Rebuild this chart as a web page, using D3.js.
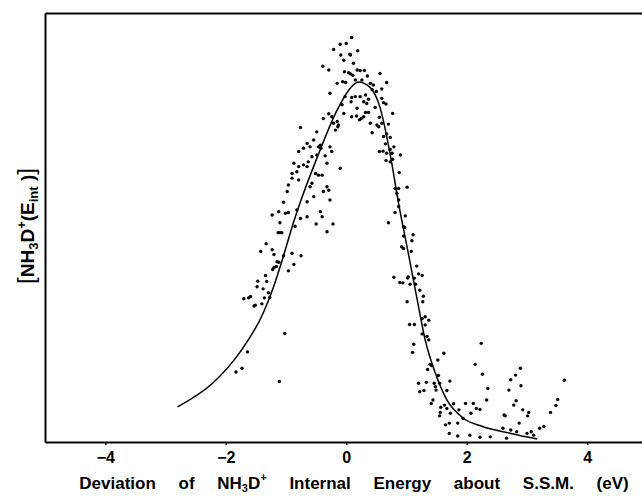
<!DOCTYPE html>
<html><head><meta charset="utf-8">
<script src="https://cdn.jsdelivr.net/npm/d3@7"></script>
<style>body{margin:0;background:#fff}svg{display:block}</style>
</head><body>
<svg id="c" width="642" height="496"></svg>
<script>
// x: deviation of internal energy (eV); y: relative population (arbitrary units, 0-100)
const xTicks = [-4, -2, 0, 2, 4];
const xDomain = [-5, 5];
const yDomain = [0, 100];

// fitted curve
const curveX = [-2.80, -2.21, -1.76, -1.38, -1.21, -1.05, -0.88, -0.76, -0.48, -0.15, 0.07, 0.20, 0.40, 0.56, 0.73, 0.87, 1.03, 1.18, 1.31, 1.48, 1.67, 1.94, 2.26, 2.73, 3.17];
const curveY = [8.2, 13.8, 21.0, 30.0, 36.0, 43.0, 51.0, 56.0, 66.4, 77.4, 82.5, 83.9, 82.6, 78.0, 67.0, 55.5, 44.0, 33.0, 23.8, 16.0, 9.8, 5.6, 3.6, 2.0, 0.7];

// scattered data points
const pointX = [
-0.10,0.00,-0.21,-0.09,0.06,-0.04,-0.39,-0.29,-0.03,0.04,-0.06,-0.01,-0.15,-0.27,-0.02,-0.07,-0.04,-0.24,-0.15,-0.21,-0.14,-0.38,-0.29,-0.76,-0.49,-0.18,-0.13,-0.54,-0.65,-0.60,-0.71,-0.79,-0.46,-0.43,-0.42,-0.27,-0.24,-0.49,-0.35,-0.32,-0.10,-0.57,-0.63,-0.71,-0.79,-0.87,-0.82,-0.90,-0.90,-0.65,-0.51,-0.46,-0.57,-0.60,-0.40,-0.32,-0.96,-0.79,-0.98,-0.38,-0.29,-0.27,-0.54,-0.65,-1.04,-1.12,-1.23,-1.01,-0.96,-0.82,-0.65,-0.76,-0.43,-0.40,
0.09,0.19,0.07,0.12,0.18,0.23,0.30,0.07,0.11,0.35,0.56,0.67,0.26,0.15,0.40,0.45,0.43,0.50,0.59,0.09,0.15,0.23,0.32,0.37,0.08,0.29,0.34,0.59,0.62,0.66,0.18,0.32,0.37,0.09,0.17,0.22,0.25,0.29,0.48,0.55,0.77,0.40,0.51,0.54,0.59,0.70,0.43,0.62,0.67,0.73,0.65,0.79,0.73,0.55,0.61,0.67,0.76,0.90,0.66,0.73,0.77,0.88,0.81,0.87,1.01,0.84,0.87,0.87,0.81,0.98,
-0.50,-0.32,-0.22,-0.85,-1.10,-1.13,-1.10,-1.07,-1.33,-1.42,-1.23,-1.20,-1.15,-1.12,-1.04,-0.90,-0.75,-0.87,-0.96,-1.22,-1.20,-1.16,-1.34,-1.47,-1.32,-1.48,-1.38,-1.29,-1.27,-1.36,-1.70,-1.62,-1.59,-1.51,-1.53,-1.40,-1.02,-1.64,-1.73,-1.83,-1.11,
0.70,0.95,0.97,1.11,1.09,0.95,0.92,0.95,1.08,1.17,1.20,1.26,1.13,1.03,1.02,0.79,0.89,0.94,1.06,1.15,1.22,1.28,1.27,1.01,1.31,1.37,1.26,1.31,1.05,1.13,1.26,1.34,1.37,1.12,1.10,1.62,1.52,1.39,1.42,1.35,1.53,1.72,1.20,1.33,1.46,1.48,1.55,1.22,1.29,1.49,1.67,1.44,1.41,1.57,1.63,1.78,1.67,1.56,1.55,1.73,1.87,1.94,1.98,2.07,2.11,2.16,2.22,2.24,2.14,2.26,2.35,2.33,2.62,2.64,2.73,2.70,2.81,2.89,2.90,2.82,2.78,2.93,3.01,3.03,3.39,3.48,3.51,3.62,
1.65,1.71,1.85,2.87,3.21,3.28,1.71,1.85,2.05,2.22,2.39,2.66,2.83,3.00,2.60,2.73,3.07,3.11
];
const pointY = [
92.7,92.9,91.5,90.2,90.4,89.0,87.6,86.7,86.3,86.1,84.0,83.8,83.6,81.3,80.5,78.6,76.6,75.8,74.7,74.3,73.5,75.4,76.5,73.3,72.3,72.7,73.9,70.4,69.6,68.8,68.5,67.7,68.8,69.2,68.5,68.8,67.7,66.9,66.7,65.0,63.8,66.5,65.3,64.6,64.2,65.0,63.0,62.6,61.5,64.2,62.6,62.2,60.3,59.5,62.2,59.5,59.9,61.1,58.4,58.4,58.7,56.4,57.2,56.0,55.9,53.7,52.9,53.3,53.5,54.1,52.5,52.1,53.7,52.5,
94.3,91.2,90.2,88.3,86.7,86.6,86.6,85.8,85.5,85.3,85.9,83.8,84.4,84.4,83.6,83.2,82.1,81.7,82.3,80.3,80.5,80.5,80.9,79.9,79.3,79.3,78.9,80.1,79.1,78.8,77.8,76.8,76.8,75.8,76.0,75.1,75.4,75.8,78.0,75.7,76.6,74.3,73.9,73.5,74.3,74.1,72.1,71.2,71.8,71.0,69.5,68.8,68.2,67.7,67.8,67.3,67.3,66.9,65.6,65.3,65.9,62.8,59.1,59.1,59.4,58.0,56.4,54.9,53.5,52.7,
50.8,49.0,50.8,50.3,51.1,48.8,48.8,48.8,46.2,44.4,44.8,43.7,42.0,41.9,43.4,44.0,43.4,41.4,39.9,40.2,40.7,40.9,38.8,37.5,37.4,36.2,35.7,34.8,33.7,33.6,33.4,33.6,33.9,31.9,31.7,32.2,25.3,21.0,17.2,16.3,14.1,
51.1,50.2,50.0,48.3,46.9,48.0,45.5,45.1,44.4,41.0,39.2,38.8,38.2,38.5,38.2,38.4,37.2,37.1,36.8,36.8,35.4,34.0,32.7,32.7,29.2,28.4,28.8,27.3,27.4,27.4,25.2,24.6,23.8,22.8,20.9,20.7,19.1,18.1,17.8,16.9,15.5,14.2,13.7,13.9,13.7,12.9,13.7,11.7,12.0,12.1,12.0,9.8,9.0,8.1,8.6,8.9,7.8,6.9,6.1,6.7,7.5,5.5,9.0,6.7,9.0,7.8,7.6,23.0,18.1,15.8,12.5,9.8,6.3,6.1,14.5,12.1,15.6,17.2,13.1,9.6,8.6,7.5,6.1,6.9,6.9,8.5,9.9,14.4,
4.0,4.4,4.4,4.4,3.2,3.6,2.0,1.4,1.6,1.1,1.2,0.9,2.4,2.0,3.2,2.8,2.4,1.6
];

const svg = d3.select('#c');
const mLeft = 45, mRight = 647.5, mTop = 13, mBottom = 442;
const x = d3.scaleLinear().domain(xDomain).range([mLeft, mRight]);
const y = d3.scaleLinear().domain(yDomain).range([mBottom, mTop]);
const font = '"Liberation Sans", Arial, Helvetica, sans-serif';

// frame
const xAxis = svg.append('g').attr('transform', `translate(0,${mBottom})`)
  .call(d3.axisBottom(x).tickValues(xTicks).tickSize(3).tickSizeOuter(0).tickPadding(7));
xAxis.select('.domain').attr('stroke', '#000').attr('stroke-width', 2);
xAxis.selectAll('.tick line').attr('stroke', '#000').attr('stroke-width', 1.5);
xAxis.selectAll('.tick text').attr('font-family', font).attr('font-size', 16).attr('font-weight', 'bold').attr('fill', '#000');

const topAxis = svg.append('g').attr('transform', `translate(0,${mTop})`)
  .call(d3.axisTop(x).tickValues([]).tickSizeOuter(0));
topAxis.select('.domain').attr('stroke', '#000').attr('stroke-width', 2);

const yAxis = svg.append('g').attr('transform', `translate(${mLeft},0)`)
  .call(d3.axisLeft(y).tickValues([]).tickSizeOuter(0));
yAxis.select('.domain').attr('stroke', '#000').attr('stroke-width', 2);

// fitted curve
const curvePts = curveX.map((v, i) => [v, curveY[i]]);
svg.append('path')
  .attr('d', d3.line().x(d => x(d[0])).y(d => y(d[1])).curve(d3.curveMonotoneX)(curvePts))
  .attr('fill', 'none').attr('stroke', '#000').attr('stroke-width', 1.5);

// points
const pts = pointX.map((v, i) => [v, pointY[i]]);
svg.append('g').selectAll('circle').data(pts).join('circle')
  .attr('cx', d => x(d[0])).attr('cy', d => y(d[1])).attr('r', 1.7).attr('fill', '#000');

// x title
const xt = svg.append('text').attr('x', 354).attr('y', 489).attr('text-anchor', 'middle')
  .attr('font-family', font).attr('font-size', 17).attr('font-weight', 'bold').attr('fill', '#000')
  .attr('word-spacing', 18);
xt.append('tspan').text('Deviation of NH');
xt.append('tspan').attr('font-size', 11).attr('dy', 3).text('3');
xt.append('tspan').attr('dy', -3).text('D');
xt.append('tspan').attr('font-size', 11).attr('dy', -8).text('+');
xt.append('tspan').attr('dy', 8).text(' Internal Energy about S.S.M. (eV)');

// y title
const yt = svg.append('text').attr('transform', 'translate(34,226) rotate(-90)').attr('text-anchor', 'middle')
  .attr('font-family', font).attr('font-size', 19).attr('font-weight', 'bold').attr('fill', '#000');
yt.append('tspan').attr('font-weight', 'normal').attr('font-size', 24).text('[');
yt.append('tspan').text('NH');
yt.append('tspan').attr('font-size', 13).attr('dy', 4).text('3');
yt.append('tspan').attr('dy', -4).text('D');
yt.append('tspan').attr('font-size', 13).attr('dy', -8).text('+');
yt.append('tspan').attr('dy', 8).text('(E');
yt.append('tspan').attr('font-size', 13).attr('dy', 4).text('int');
yt.append('tspan').attr('dy', -4).text(' )');
yt.append('tspan').attr('font-weight', 'normal').attr('font-size', 24).text(']');
</script>
</body></html>
